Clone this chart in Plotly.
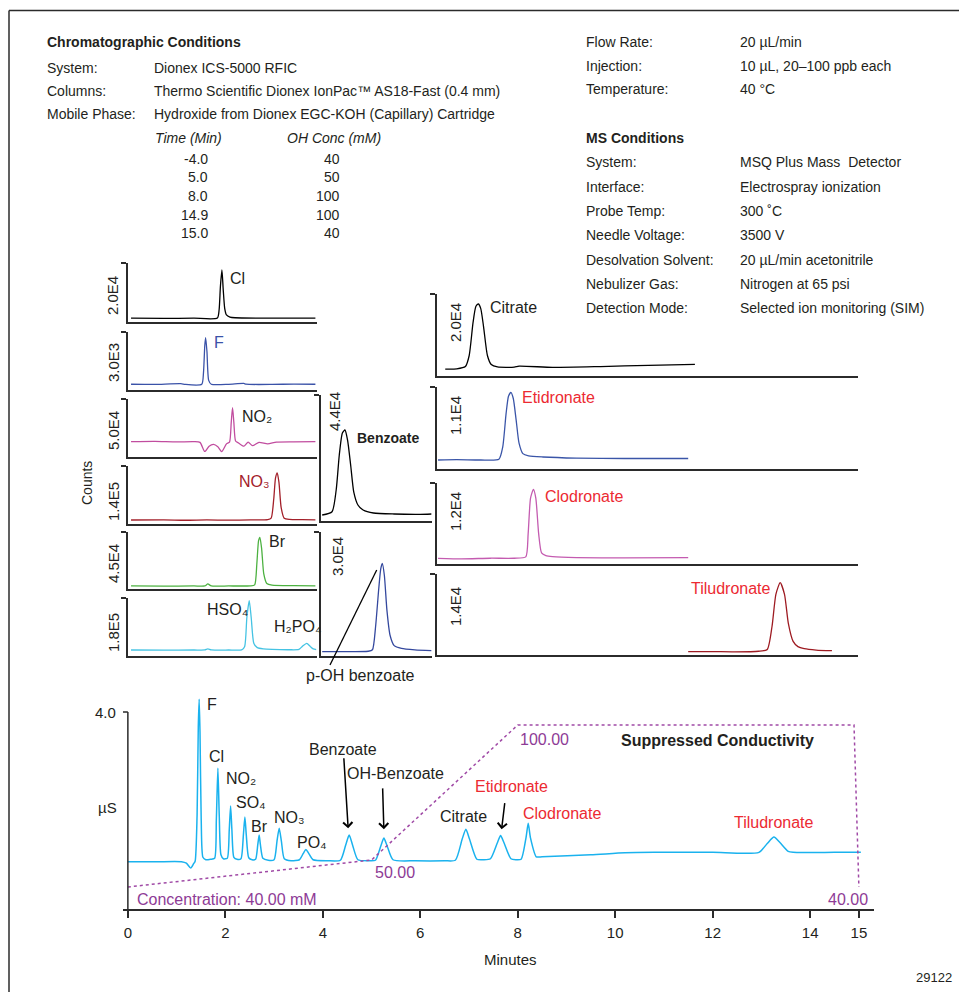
import plotly.graph_objects as go

W, H = 959, 992
FONT = "Liberation Sans, Arial, Helvetica, sans-serif"
INK = "#231f20"
AXIS = "#2b2b2b"
RED = "#ec2a32"
PURPLE = "#8e3b96"

# ======================= DATA =======================
chrom_labels = ["System:", "Columns:", "Mobile Phase:"]
chrom_values = ["Dionex ICS-5000 RFIC",
                "Thermo Scientific Dionex IonPac\u2122 AS18-Fast (0.4 mm)",
                "Hydroxide from Dionex EGC-KOH (Capillary) Cartridge"]
grad_time_txt = ["-4.0", "5.0", "8.0", "14.9", "15.0"]
grad_conc_txt = ["40", "50", "100", "100", "40"]
flow_labels = ["Flow Rate:", "Injection:", "Temperature:"]
flow_values = ["20 \u00b5L/min", "10 \u00b5L, 20\u2013100 ppb each", "40 \u00b0C"]
ms_labels = ["System:", "Interface:", "Probe Temp:", "Needle Voltage:",
             "Desolvation Solvent:", "Nebulizer Gas:", "Detection Mode:"]
ms_values = ["MSQ Plus Mass  Detector", "Electrospray ionization", "300 \u02daC", "3500 V",
             "20 \u00b5L/min acetonitrile", "Nitrogen at 65 psi", "Selected ion monitoring (SIM)"]

# MS SIM traces: time (min) and counts
cl_t = [-0.25, 0.5, 1.2, 1.74, 1.78, 1.81, 1.845, 1.875, 1.91, 1.95, 2.03, 2.15, 3.0, 4.0]
cl_y = [1200, 1150, 1200, 1250, 4000, 12000, 17700, 11000, 4500, 2300, 1600, 1350, 1200, 1200]

f_t = [-0.25, 0.3, 0.9, 1.0, 1.38, 1.42, 1.45, 1.47, 1.50, 1.54, 1.60, 2.0, 2.35, 2.4, 3.0, 3.5, 4.0]
f_y = [300, 290, 330, 290, 300, 900, 2300, 2720, 2000, 500, 300, 295, 340, 300, 290, 310, 300]

no2_t = [-0.25, 0.3, 0.8, 1.2, 1.34, 1.45, 1.55, 1.65, 1.75, 1.84, 1.95, 2.02, 2.06, 2.09,
         2.12, 2.16, 2.22, 2.35, 2.45, 2.55, 2.7, 2.9, 3.1, 3.5, 4.0]
no2_y = [13400, 13600, 13200, 13400, 12800, 5000, 9500, 11000, 9000, 4800, 11500, 13000, 30000, 42500,
         30000, 14000, 12500, 9500, 13000, 10000, 12800, 11500, 13000, 13200, 13400]

no3_t = [-0.25, 0.5, 1.0, 1.5, 2.0, 2.5, 2.9, 2.98, 3.04, 3.08, 3.12, 3.16, 3.21, 3.28, 3.4, 3.7, 4.0]
no3_y = [9600, 10000, 9000, 9800, 9200, 9800, 10500, 14000, 60000, 110000, 123000, 100000, 40000,
         14000, 11000, 10500, 10000]

br_t = [-0.25, 0.5, 1.2, 1.45, 1.52, 1.6, 2.0, 2.5, 2.6, 2.65, 2.69, 2.72, 2.76, 2.81, 2.88, 3.0, 3.5, 4.0]
br_y = [2600, 2500, 2600, 2600, 4200, 2600, 2600, 2700, 3500, 20000, 38000, 40600, 32000, 12000,
        4500, 3200, 2800, 2700]

hso4_t = [-0.25, 0.5, 1.2, 1.45, 1.52, 1.6, 2.0, 2.3, 2.37, 2.42, 2.475, 2.52, 2.58, 2.66, 2.8,
          3.0, 3.4, 3.62, 3.7, 3.8, 3.88, 3.95, 4.02]
hso4_y = [18700, 18500, 18700, 18800, 22000, 18800, 18700, 19200, 30000, 120000, 172500, 120000,
          40000, 26000, 22000, 20500, 19500, 20500, 30000, 39600, 30000, 22000, 20000]

benz_t = [4.11, 4.30, 4.38, 4.44, 4.50, 4.55, 4.60, 4.66, 4.72, 4.80, 4.90, 5.1, 5.5, 6.0, 6.22]
benz_y = [2000, 3150, 10750, 23000, 30700, 31750, 28200, 19400, 10000, 5500, 3750, 2700, 2350, 2240, 2350]

pohb_t = [4.11, 4.5, 5.0, 5.08, 5.14, 5.20, 5.24, 5.27, 5.31, 5.36, 5.42, 5.50, 5.64, 5.9, 6.22]
pohb_y = [1040, 1040, 1150, 1500, 7000, 16000, 21000, 22370, 19500, 11000, 5000, 2500, 1850, 1500, 1280]

cit_t = [6.26, 6.5, 6.68, 6.76, 6.84, 6.90, 6.95, 7.0, 7.06, 7.14, 7.22, 7.35, 7.7, 7.8, 8.5, 9.5, 10.5, 11.47]
cit_y = [1700, 1750, 2300, 5000, 13000, 17000, 17560, 16500, 12000, 5000, 2800, 2200, 2150, 2400,
         2100, 2300, 2600, 2850]

eti_t = [6.11, 6.5, 7.0, 7.38, 7.46, 7.53, 7.58, 7.63, 7.68, 7.74, 7.80, 7.88, 8.0, 8.3, 9.0, 10.0, 11.33]
eti_y = [1250, 1300, 1250, 1350, 3000, 7500, 9800, 10330, 9500, 6600, 3500, 2100, 1800, 1650, 1500, 1450, 1450]

clo_t = [6.11, 6.6, 7.2, 7.7, 7.94, 7.99, 8.04, 8.10, 8.15, 8.21, 8.27, 8.36, 8.5, 9.0, 10.0, 11.33]
clo_y = [890, 800, 900, 900, 1100, 4500, 9800, 11100, 9800, 4500, 1700, 1300, 1150, 1000, 950, 980]

til_t = [11.33, 11.8, 12.3, 12.8, 12.98, 13.08, 13.16, 13.25, 13.34, 13.42, 13.52, 13.62, 13.75, 14.0, 14.33]
til_y = [620, 650, 600, 700, 1000, 5000, 10500, 12500, 10500, 5500, 2400, 1500, 1150, 900, 790]

# Suppressed conductivity trace (min, uS)
cond_t = [0.00, 0.60, 1.10, 1.20, 1.29, 1.35, 1.38, 1.42, 1.445, 1.463, 1.48, 1.505, 1.54, 1.60,
          1.70, 1.78, 1.815, 1.847, 1.875, 1.91, 1.96, 2.04, 2.08, 2.108, 2.135, 2.175,
          2.24, 2.32, 2.37, 2.401, 2.43, 2.48, 2.55, 2.62, 2.665, 2.694, 2.72, 2.77, 2.88,
          3.00, 3.06, 3.105, 3.15, 3.21, 3.35, 3.52, 3.60, 3.653, 3.71, 3.80, 4.10,
          4.36, 4.47, 4.541, 4.61, 4.72, 4.95, 5.08, 5.19, 5.253, 5.32, 5.44, 5.9, 6.5,
          6.72, 6.86, 6.936, 7.01, 7.16, 7.30, 7.44, 7.58, 7.648, 7.72, 7.86, 7.96,
          8.07, 8.17, 8.215, 8.26, 8.38, 8.5, 9.5, 10.2, 10.8, 12.0, 12.95, 13.12, 13.257,
          13.38, 13.55, 13.65, 14.5, 15.04]
cond_us = [0.96, 0.96, 0.96, 0.93, 0.83, 0.92, 0.97, 1.9, 3.7, 4.26, 3.6, 1.8, 1.05, 1.00,
           1.01, 1.03, 1.8, 2.86, 1.9, 1.10, 1.02, 1.03, 1.6, 2.09, 1.6, 1.05,
           1.01, 1.02, 1.5, 1.87, 1.5, 1.04, 1.00, 1.01, 1.3, 1.50, 1.3, 1.03, 0.99,
           1.00, 1.38, 1.64, 1.38, 1.02, 0.98, 1.00, 1.13, 1.21, 1.13, 1.00, 0.98,
           0.99, 1.30, 1.50, 1.30, 1.00, 0.98, 0.99, 1.28, 1.44, 1.28, 1.00, 0.98, 0.98,
           0.99, 1.42, 1.62, 1.42, 1.01, 1.00, 1.02, 1.34, 1.49, 1.34, 1.02, 1.00,
           1.01, 1.45, 1.74, 1.45, 1.06, 1.06, 1.10, 1.14, 1.15, 1.15, 1.15, 1.33, 1.46,
           1.35, 1.17, 1.15, 1.15, 1.15]

# Hydroxide gradient as drawn (min, mM)
conc_t = [0.0, 5.0, 8.0, 14.9, 15.0]
conc_mM = [40, 50, 100, 100, 40]

x_ticks = [0, 2, 4, 6, 8, 10, 12, 14, 15]

# ======================= LAYOUT HELPERS =======================
def px(x):
    return x / W


def py(y):
    return 1 - y / H


# bottom chart geometry (pixels) and ranges
BX0, BX1, BXR0, BXR1 = 123, 873.5, -0.1, 15.3
BY0, BY1, BYR1 = 909, 695, 4.345


def bx(t):
    return px(BX0 + (t - BXR0) * (BX1 - BX0) / (BXR1 - BXR0))


def by(v):
    return py(BY0 - v * (BY0 - BY1) / BYR1)


fig = go.Figure()
layout = dict(width=W, height=H, margin=dict(l=0, r=0, t=0, b=0),
              paper_bgcolor="white", plot_bgcolor="rgba(0,0,0,0)",
              showlegend=False, font=dict(family=FONT, color=INK, size=14))
annotations = []
shapes = []

LEFT = (128, 316.7, -0.32, 4.03)
MID = (321, 431.7, 4.087, 6.224)
RIGHT = (437, 858.3, 6.088, 14.88)

panels = [
    # t, y, color, fullscale, scale text, column, top, bottom, label x, label y-center
    (cl_t, cl_y, "#000000", 2.0e4, "2.0E4", LEFT, 263.3, 321.7, 113, 296),
    (f_t, f_y, "#3a52a8", 3.0e3, "3.0E3", LEFT, 332.3, 390, 113, 363),
    (no2_t, no2_y, "#c14d9f", 5.0e4, "5.0E4", LEFT, 399, 457.3, 113, 431),
    (no3_t, no3_y, "#a3202a", 1.4e5, "1.4E5", LEFT, 465.7, 524, 113, 502),
    (br_t, br_y, "#4cb140", 4.5e4, "4.5E4", LEFT, 531.7, 589.3, 113, 564),
    (hso4_t, hso4_y, "#45c3e3", 1.8e5, "1.8E5", LEFT, 598.3, 656, 113, 633),
    (benz_t, benz_y, "#000000", 4.4e4, "4.4E4", MID, 395, 520.7, 335, 412),
    (pohb_t, pohb_y, "#34489e", 3.0e4, "3.0E4", MID, 531.7, 656, 337, 557),
    (cit_t, cit_y, "#000000", 2.0e4, "2.0E4", RIGHT, 294, 376, 455, 323),
    (eti_t, eti_y, "#3a55a8", 1.1e4, "1.1E4", RIGHT, 387.3, 469.3, 455, 416),
    (clo_t, clo_y, "#c45bb0", 1.2e4, "1.2E4", RIGHT, 483.3, 564.3, 455, 512),
    (til_t, til_y, "#9e1b22", 1.4e4, "1.4E4", RIGHT, 574, 655.3, 455, 607),
]

for i, (t, y, col, fs, fs_txt, colspec, top, bot, lx, ly) in enumerate(panels, start=1):
    x0, x1, r0, r1 = colspec
    xa = "xaxis" if i == 1 else f"xaxis{i}"
    ya = "yaxis" if i == 1 else f"yaxis{i}"
    xr = "x" if i == 1 else f"x{i}"
    yr = "y" if i == 1 else f"y{i}"
    layout[xa] = dict(domain=[px(x0), px(x1)], range=[r0, r1], anchor=yr,
                      showline=True, linecolor=AXIS, linewidth=1.5, ticks="",
                      showticklabels=False, showgrid=False, zeroline=False)
    layout[ya] = dict(domain=[py(bot), py(top)], range=[0, fs], anchor=xr,
                      showline=True, linecolor=AXIS, linewidth=1.5, ticks="outside",
                      tickvals=[fs], ticklen=5, tickwidth=1.5, tickcolor=AXIS,
                      showticklabels=False, showgrid=False, zeroline=False)
    fig.add_trace(go.Scatter(x=t, y=y, xaxis=xr, yaxis=yr, mode="lines",
                             line=dict(color=col, width=1.3, shape="spline", smoothing=0.6),
                             hoverinfo="skip"))
    annotations.append(dict(text=fs_txt, x=px(lx), y=py(ly), xref="paper", yref="paper",
                            textangle=-90, showarrow=False, xanchor="center", yanchor="middle",
                            font=dict(size=15, color=INK)))

# ---------- bottom conductivity chart ----------
layout["xaxis13"] = dict(domain=[px(BX0), px(BX1)], range=[BXR0, BXR1], anchor="y13",
                         showline=True, linecolor=AXIS, linewidth=1.5, ticks="outside",
                         tickvals=x_ticks, ticktext=[str(v) for v in x_ticks], ticklen=7,
                         tickwidth=1.5, tickcolor=AXIS, tickfont=dict(size=15, color=INK),
                         showgrid=False, zeroline=False, ticklabelstandoff=2)
layout["yaxis13"] = dict(domain=[py(BY0), py(BY1)], range=[0, BYR1], anchor="x13",
                         showline=False, ticks="", showticklabels=False, showgrid=False,
                         zeroline=False)
layout["yaxis14"] = dict(domain=[py(BY0), py(BY1)], range=[31.85, 111.11], anchor="x13",
                         overlaying="y13", visible=False, showgrid=False, zeroline=False)

fig.add_trace(go.Scatter(x=conc_t, y=conc_mM, xaxis="x13", yaxis="y14", mode="lines",
                         line=dict(color="#a04aa6", width=1.5, dash="dot"), hoverinfo="skip"))
fig.add_trace(go.Scatter(x=cond_t, y=cond_us, xaxis="x13", yaxis="y13", mode="lines",
                         line=dict(color="#1ab2ee", width=1.5, shape="spline", smoothing=0.6),
                         hoverinfo="skip"))

# y axis line for bottom chart at t = 0 and its 4.0 tick
shapes.append(dict(type="line", xref="x13", yref="y13", x0=0, x1=0, y0=0, y1=4.0,
                   line=dict(color=AXIS, width=1.5)))
shapes.append(dict(type="line", xref="x13", yref="y13", x0=-0.1, x1=0, y0=4.0, y1=4.0,
                   line=dict(color=AXIS, width=1.5)))
annotations.append(dict(text="4.0", x=px(118), y=py(712), xref="paper", yref="paper",
                        showarrow=False, xanchor="right", yanchor="middle", font=dict(size=15)))
annotations.append(dict(text="\u00b5S", x=px(107), y=py(807), xref="paper", yref="paper",
                        showarrow=False, xanchor="center", yanchor="middle", font=dict(size=15)))
annotations.append(dict(text="Minutes", x=px(510), y=py(959), xref="paper", yref="paper",
                        showarrow=False, xanchor="center", yanchor="middle", font=dict(size=15)))
annotations.append(dict(text="29122", x=px(954), y=py(977), xref="paper", yref="paper",
                        showarrow=False, xanchor="right", yanchor="middle", font=dict(size=13)))

bottom_labels = [
    ("F", 1.58, 4.16, INK, "left"),
    ("Cl", 1.81, 3.09, INK, "center"),
    ("NO\u2082", 1.97, 2.64, INK, "left"),
    ("SO\u2084", 2.18, 2.16, INK, "left"),
    ("Br", 2.71, 1.67, INK, "center"),
    ("NO\u2083", 2.95, 1.85, INK, "left"),
    ("PO\u2084", 3.43, 1.35, INK, "left"),
    ("Benzoate", 4.42, 3.23, INK, "center"),
    ("OH-Benzoate", 5.49, 2.755, INK, "center"),
    ("Citrate", 6.88, 1.87, INK, "center"),
    ("Etidronate", 7.87, 2.48, RED, "center"),
    ("Clodronate", 8.90, 1.93, RED, "center"),
    ("Tiludronate", 13.25, 1.75, RED, "center"),
    ("100.00", 8.54, 3.44, PURPLE, "center"),
    ("50.00", 5.49, 0.74, PURPLE, "center"),
    ("Concentration: 40.00 mM", 0.144, 0.197, PURPLE, "left"),
    ("40.00", 14.78, 0.197, PURPLE, "center"),
    ("<b>Suppressed Conductivity</b>", 12.1, 3.43, INK, "center"),
]
for txt_, xx, yy, col, anc in bottom_labels:
    annotations.append(dict(text=txt_, x=bx(xx), y=by(yy), xref="paper", yref="paper",
                            showarrow=False, xanchor=anc, yanchor="middle",
                            font=dict(size=16, color=col)))

arrows = [(4.52, 1.637, 4.43, 3.09), (5.253, 1.618, 5.227, 2.48), (7.669, 1.618, 7.737, 2.18)]
for hx, hy, tx, ty in arrows:
    annotations.append(dict(text="", x=hx, y=hy, ax=tx, ay=ty, xref="x13", yref="y13",
                            axref="x13", ayref="y13", showarrow=True, arrowhead=4,
                            arrowsize=1.2, arrowwidth=1.5, arrowcolor="#000000", standoff=0))

# ---------- SIM panel labels ----------
panel_labels = [
    ("Cl", 228, 278, INK, False),
    ("F", 212, 342, "#3a52a8", False),
    ("NO\u2082", 240, 416, INK, False),
    ("NO\u2083", 236.7, 481, "#a3202a", False),
    ("Br", 266.7, 541.7, INK, False),
    ("HSO\u2084", 205, 609, INK, False),
    ("H\u2082PO\u2084", 271.7, 626, INK, False),
    ("<b>Benzoate</b>", 355, 438.3, INK, True),
    ("Citrate", 488, 307.3, INK, False),
    ("Etidronate", 520, 397.3, RED, False),
    ("Clodronate", 542.7, 496, RED, False),
    ("Tiludronate", 689, 588.3, RED, False),
]
for txt_, xx, yy, col, bold in panel_labels:
    annotations.append(dict(text=txt_, x=px(xx), y=py(yy), xref="paper", yref="paper",
                            showarrow=False, xanchor="left", yanchor="middle",
                            font=dict(size=14 if bold else 16, color=col)))
annotations.append(dict(text="p-OH benzoate", x=px(360.5), y=py(675), xref="paper", yref="paper",
                        showarrow=False, xanchor="center", yanchor="middle", font=dict(size=16)))
shapes.append(dict(type="line", xref="paper", yref="paper", x0=px(330), y0=py(665),
                   x1=px(376.7), y1=py(570), line=dict(color="#000000", width=1.3)))
annotations.append(dict(text="Counts", x=px(87), y=py(483), xref="paper", yref="paper",
                        textangle=-90, showarrow=False, xanchor="center", yanchor="middle",
                        font=dict(size=14)))

# ---------- condition texts ----------
def txt(s, x, y, size=14, anchor="left"):
    annotations.append(dict(text=s, x=px(x), y=py(y), xref="paper", yref="paper",
                            showarrow=False, xanchor=anchor, yanchor="middle",
                            font=dict(size=size, color=INK)))

txt("<b>Chromatographic Conditions</b>", 45, 42.3)
for k, (lab, val) in enumerate(zip(chrom_labels, chrom_values)):
    yy = 67.7 + 23.3 * k
    txt(lab, 45, yy)
    txt(val, 151.7, yy)
txt("<i>Time (Min)</i>", 153, 138.3)
txt("<i>OH Conc (mM)</i>", 285, 138.3)
for k, (a, b) in enumerate(zip(grad_time_txt, grad_conc_txt)):
    yy = 158.7 + 18.65 * k
    txt(a, 210, yy, anchor="right")
    txt(b, 341.7, yy, anchor="right")

for k, (lab, val) in enumerate(zip(flow_labels, flow_values)):
    yy = 41.7 + 23.8 * k
    txt(lab, 584, yy)
    txt(val, 738.3, yy)
txt("<b>MS Conditions</b>", 584, 138.3)
for k, (lab, val) in enumerate(zip(ms_labels, ms_values)):
    yy = 162.3 + 24.33 * k
    txt(lab, 584, yy)
    txt(val, 738.3, yy)

# ---------- frame ----------
shapes.append(dict(type="line", xref="paper", yref="paper", x0=px(9), x1=1, y0=py(10.5), y1=py(10.5),
                   line=dict(color=AXIS, width=1.5)))
shapes.append(dict(type="line", xref="paper", yref="paper", x0=px(9), x1=px(9), y0=py(10.5), y1=0,
                   line=dict(color=AXIS, width=1.5)))

layout["annotations"] = annotations
layout["shapes"] = shapes
fig.update_layout(**layout)
fig.write_html("out.html")
